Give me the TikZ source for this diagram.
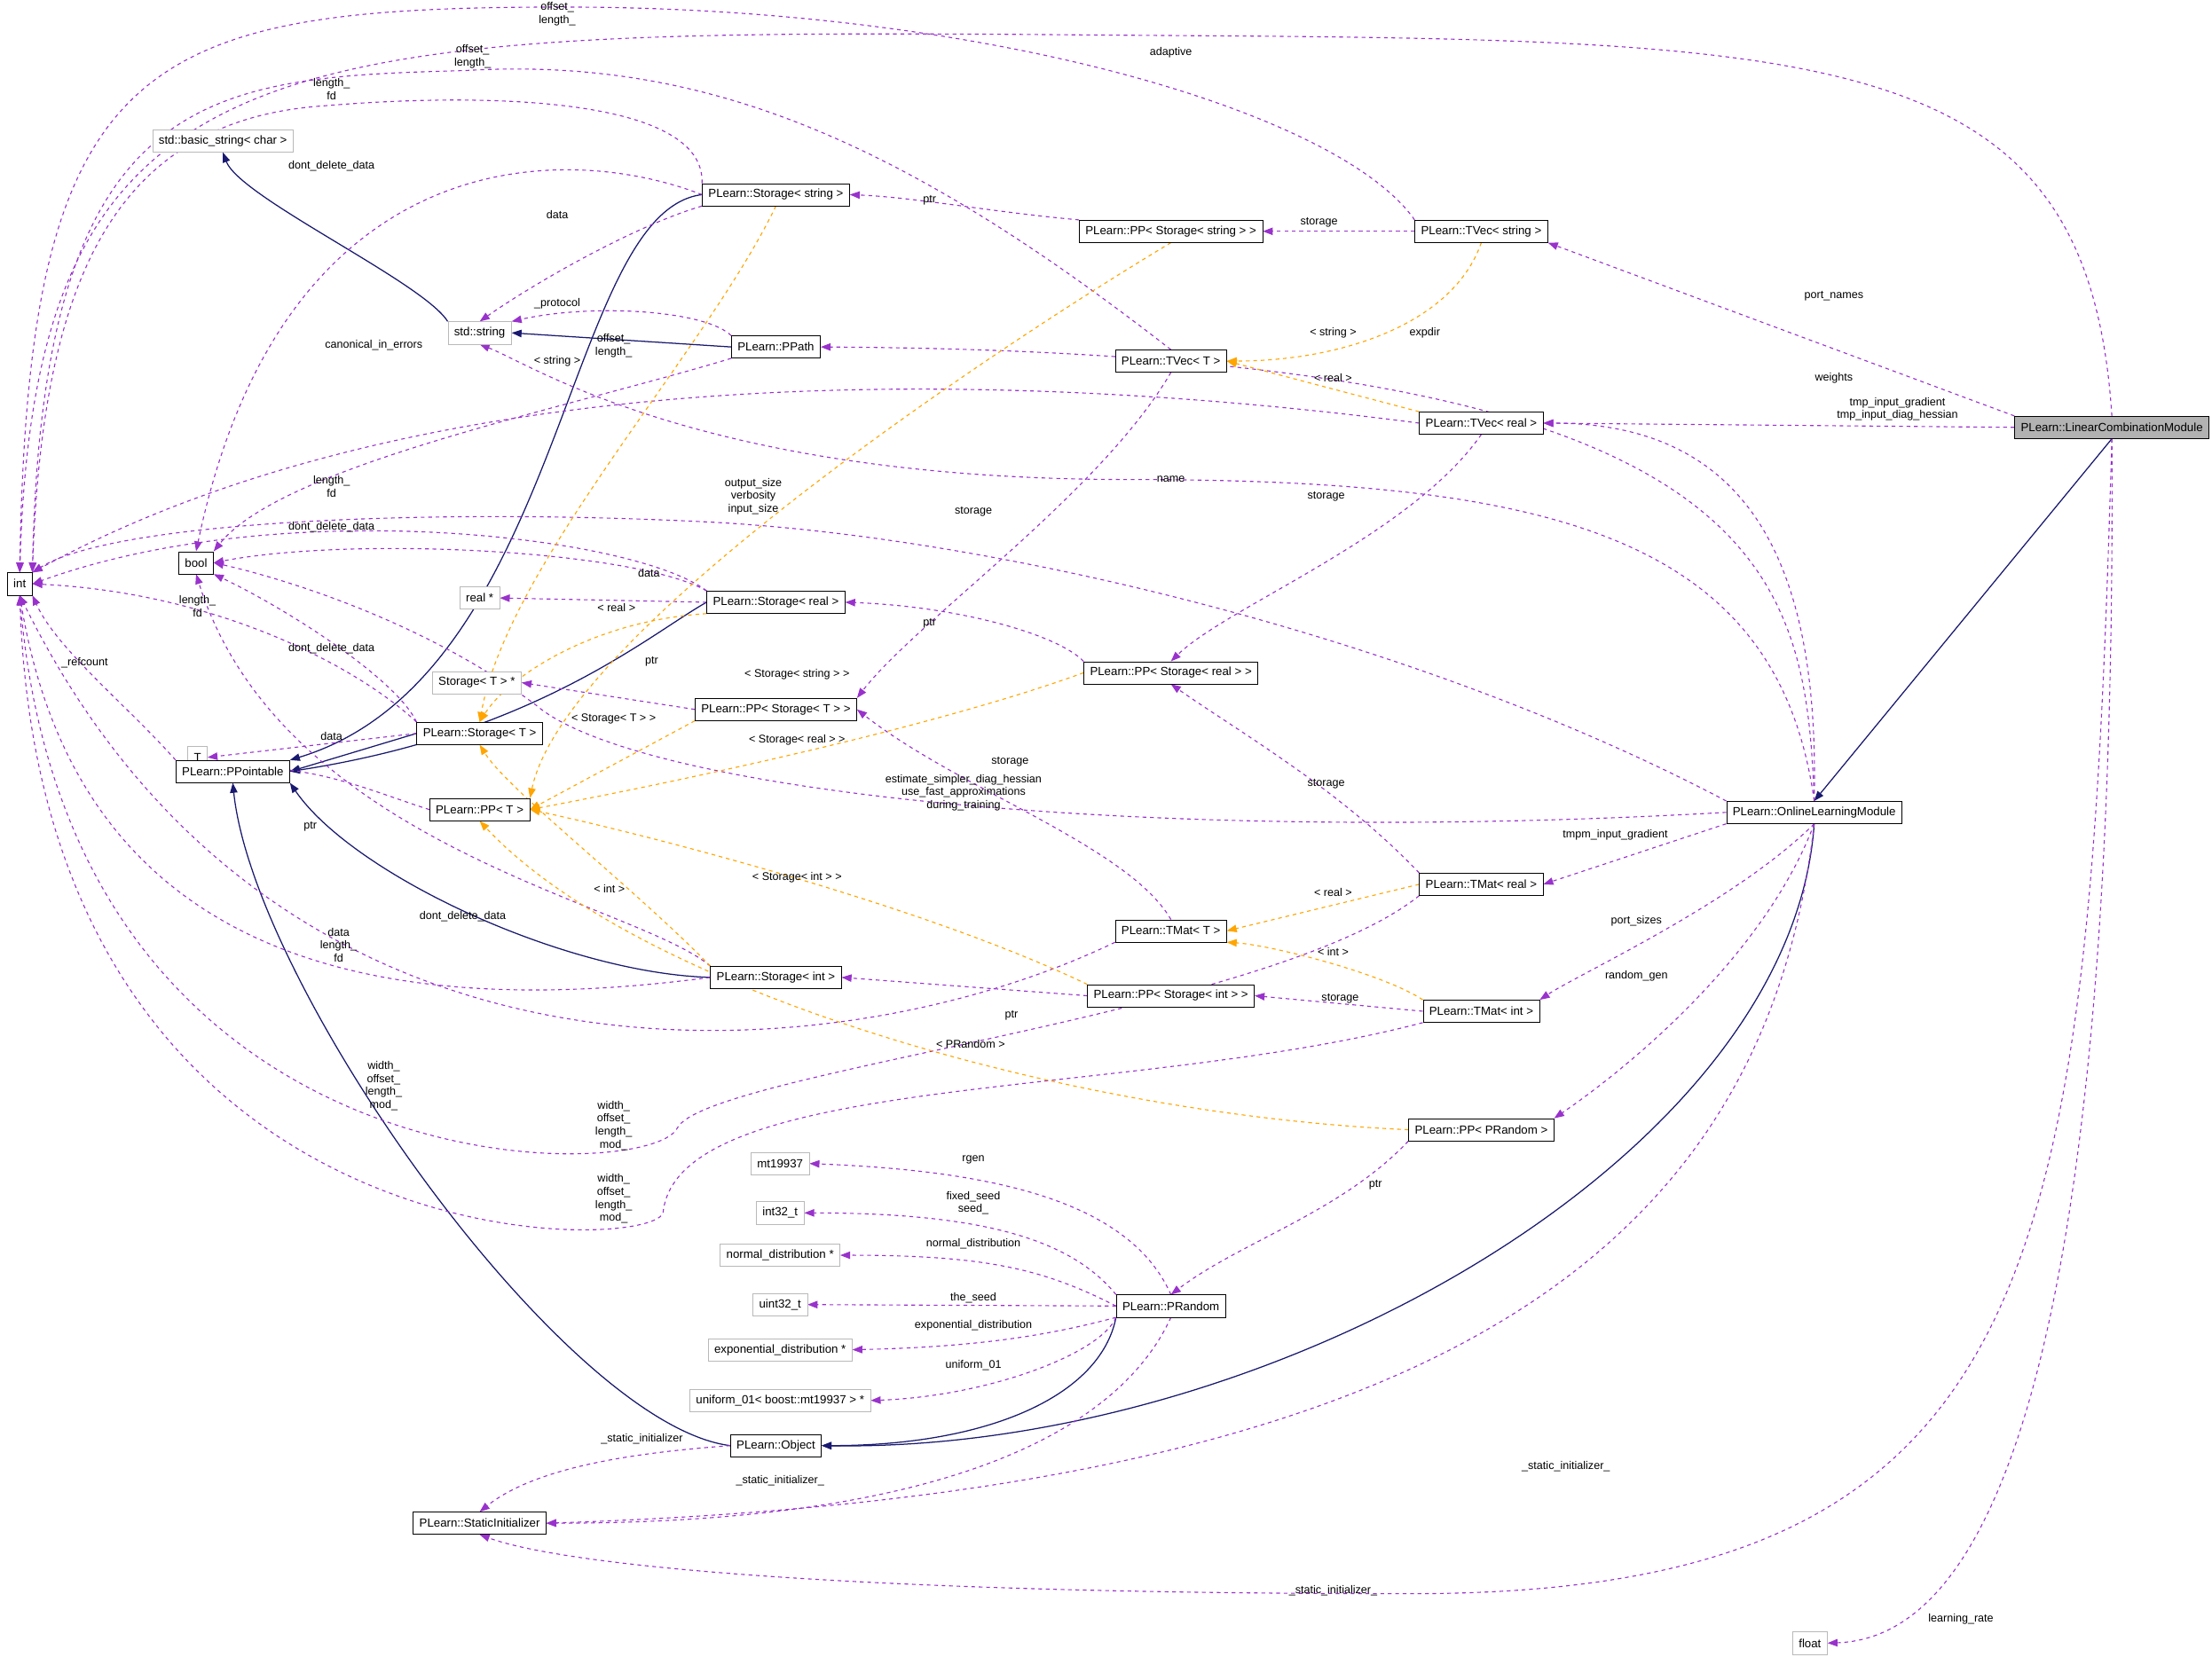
\documentclass[tikz,border=0pt]{standalone}
\usepackage{fontspec}
\setmainfont{Liberation Sans}
\usetikzlibrary{arrows.meta}
\pgfdeclarelayer{bg}
\pgfsetlayers{bg,main}
\begin{document}
\begin{tikzpicture}[x=0.04cm,y=-0.04cm,font=\fontsize{9.5}{11}\selectfont,
 box/.style={draw=black,fill=white,inner xsep=5pt,inner ysep=0pt,minimum height=18pt},
 gbox/.style={draw=gray!55,fill=white,inner xsep=5pt,inner ysep=0pt,minimum height=18pt},
 inh/.style={draw={rgb,255:red,25;green,25;blue,112},line width=0.9pt,-{Triangle[length=8pt,width=6pt]}},
 use/.style={draw={rgb,255:red,153;green,50;blue,204},dashed,line width=0.8pt,-{Triangle[length=8pt,width=6pt]}},
 tpl/.style={draw={rgb,255:red,255;green,165;blue,0},dashed,line width=0.8pt,-{Triangle[length=8pt,width=6pt]}},
 lbl/.style={inner sep=0pt,align=center,font=\fontsize{9}{10.5}\selectfont}]
\useasboundingbox (0,0) rectangle (1568,1180);
% nodes
\node[box,fill=gray!60] (lcm) at (1497,303) {PLearn::LinearCombinationModule};
\node[box] (int) at (14,414) {int};
\node[box] (bool) at (139,399) {bool};
\node[gbox] (bs) at (158,100) {std::basic\_string< char >};
\node[gbox] (str) at (340,236) {std::string};
\node[box] (sts) at (550,138) {PLearn::Storage< string >};
\node[box] (ppss) at (830,164) {PLearn::PP< Storage< string > >};
\node[box] (tvs) at (1050,164) {PLearn::TVec< string >};
\node[box] (ppath) at (550,246) {PLearn::PPath};
\node[box] (tvt) at (830,256) {PLearn::TVec< T >};
\node[box] (tvr) at (1050,300) {PLearn::TVec< real >};
\node[gbox] (realp) at (340,424) {real *};
\node[box] (str2) at (550,427) {PLearn::Storage< real >};
\node[gbox] (stp) at (338,484) {Storage< T > *};
\node[box] (ppst) at (550,503) {PLearn::PP< Storage< T > >};
\node[box] (ppsr) at (830,477) {PLearn::PP< Storage< real > >};
\node[gbox] (T) at (140,537) {T};
\node[box] (stt) at (340,520) {PLearn::Storage< T >};
\node[box] (ppt) at (165,547) {PLearn::PPointable};
\node[box] (ppT) at (340,574) {PLearn::PP< T >};
\node[box] (olm) at (1286,576) {PLearn::OnlineLearningModule};
\node[box] (tmr) at (1050,627) {PLearn::TMat< real >};
\node[box] (tmt) at (830,660) {PLearn::TMat< T >};
\node[box] (sti) at (550,693) {PLearn::Storage< int >};
\node[box] (ppsi) at (830,706) {PLearn::PP< Storage< int > >};
\node[box] (tmi) at (1050,717) {PLearn::TMat< int >};
\node[box] (pppr) at (1050,801) {PLearn::PP< PRandom >};
\node[gbox] (mt) at (553,825) {mt19937};
\node[gbox] (i32) at (553,860) {int32\_t};
\node[gbox] (nd) at (553,890) {normal\_distribution *};
\node[gbox] (u32) at (553,925) {uint32\_t};
\node[gbox] (ed) at (553,957) {exponential\_distribution *};
\node[gbox] (u01) at (553,993) {uniform\_01< boost::mt19937 > *};
\node[box] (pr) at (830,926) {PLearn::PRandom};
\node[box] (obj) at (550,1025) {PLearn::Object};
\node[box] (si) at (340,1080) {PLearn::StaticInitializer};
\node[gbox] (flt) at (1283,1165) {float};
\begin{pgfonlayer}{bg}
% inheritance
\draw[inh] (lcm.south) -- (olm.north);
\draw[inh] (str.north west) .. controls (300,200) and (170,140) .. (bs.south);
\draw[inh] (ppath.west) -- (str.east);
\draw[inh] (sts.west) .. controls (400,150) and (400,480) .. (ppt.north east);
\draw[inh] (str2.west) .. controls (460,450) and (380,520) .. (ppt.east);
\draw[inh] (stt.west) -- (ppt.east);
\draw[inh] (sti.west) .. controls (400,690) and (250,620) .. (ppt.south east);
\draw[inh] (obj.west) .. controls (400,1010) and (180,700) .. (ppt.south);
\draw[inh] (pr.south west) .. controls (780,990) and (700,1025) .. (obj.east);
\draw[inh] (olm.south) .. controls (1270,820) and (900,1030) .. (obj.east);
% usage
\draw[use] (lcm.north) .. controls (1480,30) and (1300,28) .. (800,25) .. controls (200,20) and (25,20) .. (int.north);
\draw[use] (lcm.north west) -- (tvs.south east);
\draw[use] (lcm.west) -- (tvr.east);
\draw[use] (lcm.south) .. controls (1480,900) and (1450,1130) .. (1000,1130) .. controls (600,1130) and (400,1110) .. (si.south);
\draw[use] (lcm.south) .. controls (1500,800) and (1450,1160) .. (flt.east);
\draw[use] (tvs.north west) .. controls (950,80) and (700,5) .. (400,5) .. controls (100,5) and (20,40) .. (int.north);
\draw[use] (tvs.west) -- (ppss.east);
\draw[use] (ppss.north west) .. controls (700,150) and (650,140) .. (sts.east);
\draw[use] (sts.north west) .. controls (500,70) and (350,65) .. (230,75) .. controls (80,85) and (30,200) .. (int.north east);
\draw[use] (sts.west) .. controls (400,100) and (200,100) .. (bool.north);
\draw[use] (sts.south west) .. controls (450,160) and (380,200) .. (str.north);
\draw[use] (ppath.north west) .. controls (500,220) and (420,215) .. (str.north east);
\draw[use] (ppath.south west) .. controls (400,290) and (200,330) .. (bool.north east);
\draw[use] (tvt.north) .. controls (640,100) and (500,40) .. (330,50) .. controls (150,55) and (30,60) .. (int.north east);
\draw[use] (tvt.south) .. controls (780,350) and (650,440) .. (ppst.north east);
\draw[use] (tvr.west) .. controls (700,260) and (300,255) .. (int.north east);
\draw[use] (tvr.south) .. controls (1000,380) and (870,430) .. (ppsr.north);
\draw[use] (olm.north) .. controls (1280,400) and (1250,250) .. (ppath.east);
\draw[use] (olm.north) .. controls (1260,380) and (1100,340) .. (800,340) .. controls (500,340) and (380,260) .. (str.south);
\draw[use] (olm.north) .. controls (1290,400) and (1240,300) .. (tvr.east);
\draw[use] (olm.north west) .. controls (1000,450) and (700,380) .. (500,370) .. controls (300,360) and (80,370) .. (int.north east);
\draw[use] (olm.west) .. controls (800,600) and (450,560) .. (380,500) .. controls (300,440) and (200,410) .. (bool.east);
\draw[use] (olm.south west) -- (tmr.east);
\draw[use] (olm.south) .. controls (1230,640) and (1120,690) .. (tmi.north east);
\draw[use] (olm.south) .. controls (1250,680) and (1150,760) .. (pppr.north east);
\draw[use] (olm.south) .. controls (1250,900) and (1000,1060) .. (si.east);
\draw[use] (str2.west) -- (realp.east);
\draw[use] (str2.north west) .. controls (450,380) and (200,350) .. (int.east);
\draw[use] (str2.north west) .. controls (450,390) and (250,380) .. (bool.east);
\draw[use] (ppsr.north west) .. controls (750,450) and (680,430) .. (str2.east);
\draw[use] (ppst.west) -- (stp.east);
\draw[use] (stt.north west) .. controls (250,470) and (150,420) .. (int.east);
\draw[use] (stt.north west) .. controls (280,480) and (200,430) .. (bool.south east);
\draw[use] (stt.west) -- (T.east);
\draw[use] (ppt.north west) .. controls (90,500) and (40,460) .. (int.south east);
\draw[use] (ppT.west) .. controls (260,560) and (220,540) .. (T.south east);
\draw[use] (tmt.north) .. controls (800,600) and (680,560) .. (ppst.east);
\draw[use] (tmr.north west) .. controls (950,560) and (880,520) .. (ppsr.south);
\draw[use] (sti.west) .. controls (300,720) and (60,700) .. (int.south);
\draw[use] (sti.north west) .. controls (450,640) and (200,600) .. (bool.south);
\draw[use] (ppsi.west) -- (sti.east);
\draw[use] (tmi.west) -- (ppsi.east);
\draw[use] (tmt.south west) .. controls (600,760) and (200,800) .. (int.south);
\draw[use] (tmr.south west) .. controls (900,720) and (500,760) .. (480,800) .. controls (460,840) and (50,850) .. (int.south);
\draw[use] (tmi.south west) .. controls (800,780) and (480,760) .. (470,860) .. controls (460,890) and (30,900) .. (int.south);
\draw[use] (pppr.south west) .. controls (950,860) and (880,880) .. (pr.north);
\draw[use] (pr.north) .. controls (800,850) and (700,830) .. (mt.east);
\draw[use] (pr.north west) .. controls (760,880) and (700,860) .. (i32.east);
\draw[use] (pr.west) .. controls (740,900) and (700,890) .. (nd.east);
\draw[use] (pr.west) -- (u32.east);
\draw[use] (pr.south west) .. controls (750,945) and (700,955) .. (ed.east);
\draw[use] (pr.south west) .. controls (780,960) and (700,990) .. (u01.east);
\draw[use] (pr.south) .. controls (800,1000) and (700,1080) .. (si.east);
\draw[use] (obj.west) .. controls (450,1030) and (380,1040) .. (si.north);
% templates
\draw[tpl] (sts.south) .. controls (500,250) and (360,400) .. (stt.north);
\draw[tpl] (str2.south west) .. controls (420,440) and (360,480) .. (stt.north);
\draw[tpl] (sti.north west) .. controls (450,630) and (360,560) .. (stt.south);
\draw[tpl] (tvs.south) .. controls (1030,230) and (950,256) .. (tvt.east);
\draw[tpl] (tvr.north west) -- (tvt.east);
\draw[tpl] (ppss.south) .. controls (700,250) and (400,450) .. (ppT.north east);
\draw[tpl] (ppsr.west) .. controls (650,520) and (450,560) .. (ppT.east);
\draw[tpl] (ppst.south west) -- (ppT.east);
\draw[tpl] (ppsi.north west) .. controls (650,640) and (450,590) .. (ppT.east);
\draw[tpl] (pppr.west) .. controls (750,790) and (450,700) .. (ppT.south);
\draw[tpl] (tmr.west) -- (tmt.east);
\draw[tpl] (tmi.north west) .. controls (980,690) and (900,670) .. (tmt.south east);
\end{pgfonlayer}
% labels
\node[lbl] at (830,37) {adaptive};
\node[lbl] at (395,10) {offset\_\\length\_};
\node[lbl] at (335,40) {offset\_\\length\_};
\node[lbl] at (235,63) {length\_\\fd};
\node[lbl] at (235,118) {dont\_delete\_data};
\node[lbl] at (395,152) {data};
\node[lbl] at (659,142) {ptr};
\node[lbl] at (935,158) {storage};
\node[lbl] at (395,215) {\_protocol};
\node[lbl] at (395,256) {< string >};
\node[lbl] at (265,245) {canonical\_in\_errors};
\node[lbl] at (435,245) {offset\_\\length\_};
\node[lbl] at (1300,210) {port\_names};
\node[lbl] at (1300,268) {weights};
\node[lbl] at (1345,290) {tmp\_input\_gradient\\tmp\_input\_diag\_hessian};
\node[lbl] at (1010,236) {expdir};
\node[lbl] at (945,236) {< string >};
\node[lbl] at (945,268) {< real >};
\node[lbl] at (690,363) {storage};
\node[lbl] at (830,340) {name};
\node[lbl] at (534,352) {output\_size\\verbosity\\input\_size};
\node[lbl] at (940,352) {storage};
\node[lbl] at (235,345) {length\_\\fd};
\node[lbl] at (235,374) {dont\_delete\_data};
\node[lbl] at (460,406) {data};
\node[lbl] at (659,442) {ptr};
\node[lbl] at (437,431) {< real >};
\node[lbl] at (140,430) {length\_\\fd};
\node[lbl] at (235,460) {dont\_delete\_data};
\node[lbl] at (462,469) {ptr};
\node[lbl] at (565,478) {< Storage< string > >};
\node[lbl] at (435,510) {< Storage< T > >};
\node[lbl] at (235,522) {data};
\node[lbl] at (565,525) {< Storage< real > >};
\node[lbl] at (60,470) {\_refcount};
\node[lbl] at (220,586) {ptr};
\node[lbl] at (716,540) {storage};
\node[lbl] at (940,556) {storage};
\node[lbl] at (683,562) {estimate\_simpler\_diag\_hessian\\use\_fast\_approximations\\during\_training};
\node[lbl] at (1145,592) {tmpm\_input\_gradient};
\node[lbl] at (432,630) {< int >};
\node[lbl] at (565,622) {< Storage< int > >};
\node[lbl] at (945,633) {< real >};
\node[lbl] at (1160,653) {port\_sizes};
\node[lbl] at (328,650) {dont\_delete\_data};
\node[lbl] at (240,670) {data\\length\_\\fd};
\node[lbl] at (945,675) {< int >};
\node[lbl] at (1160,692) {random\_gen};
\node[lbl] at (717,720) {ptr};
\node[lbl] at (950,708) {storage};
\node[lbl] at (688,740) {< PRandom >};
\node[lbl] at (272,770) {width\_\\offset\_\\length\_\\mod\_};
\node[lbl] at (435,798) {width\_\\offset\_\\length\_\\mod\_};
\node[lbl] at (435,850) {width\_\\offset\_\\length\_\\mod\_};
\node[lbl] at (975,840) {ptr};
\node[lbl] at (690,822) {rgen};
\node[lbl] at (690,853) {fixed\_seed\\seed\_};
\node[lbl] at (690,882) {normal\_distribution};
\node[lbl] at (690,920) {the\_seed};
\node[lbl] at (690,940) {exponential\_distribution};
\node[lbl] at (690,968) {uniform\_01};
\node[lbl] at (455,1020) {\_static\_initializer};
\node[lbl] at (553,1050) {\_static\_initializer\_};
\node[lbl] at (1110,1040) {\_static\_initializer\_};
\node[lbl] at (945,1128) {\_static\_initializer\_};
\node[lbl] at (1390,1148) {learning\_rate};
\end{tikzpicture}
\end{document}
